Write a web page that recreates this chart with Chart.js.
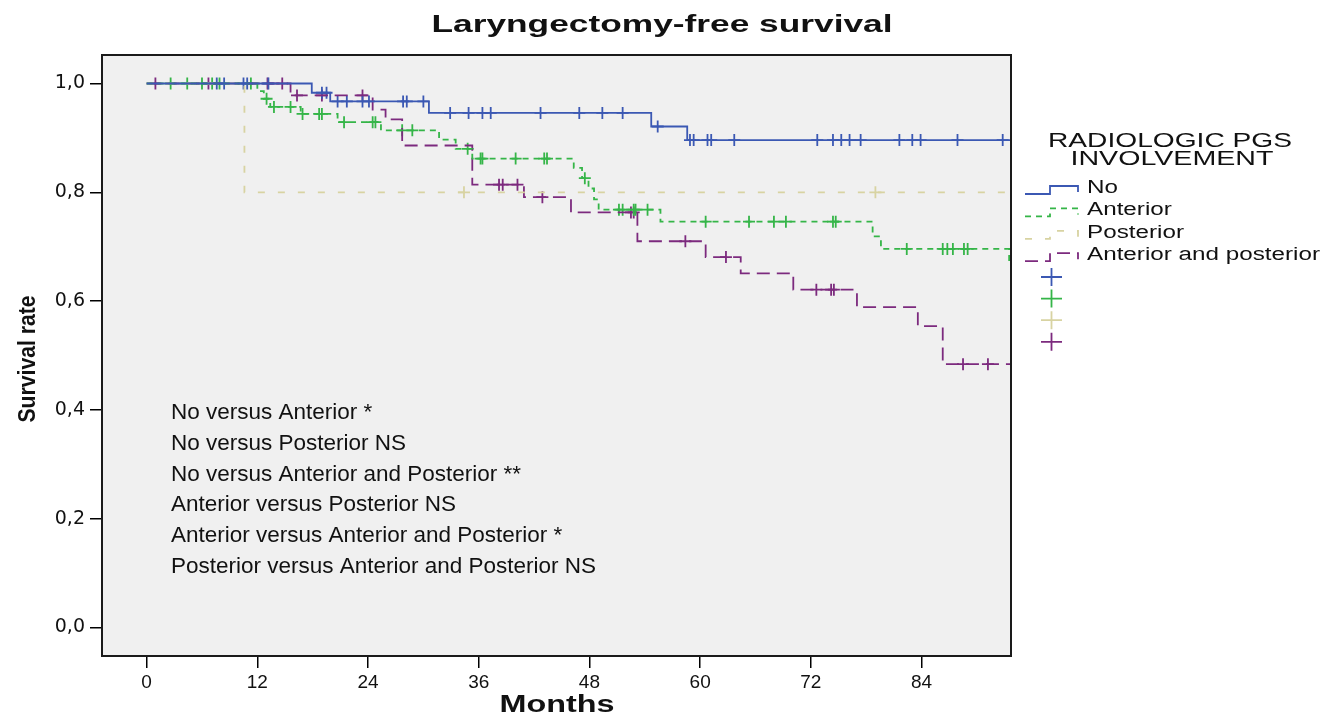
<!DOCTYPE html>
<html>
<head>
<meta charset="utf-8">
<title>Laryngectomy-free survival</title>
<script src="https://cdn.jsdelivr.net/npm/chart.js@4.4.0/dist/chart.umd.min.js"></script>
<style>
  html, body { margin: 0; padding: 0; background: #fff; }
  #wrap { width: 1323px; height: 716px; }
</style>
</head>
<body>
<div id="wrap"><canvas id="kmChart" width="1323" height="716"></canvas></div>
<script>
// Kaplan-Meier steps: time of each drop (months) and survival after it
const noTimes = [0, 17.9, 19.9, 30.6, 54.7, 58.6, 93.7];
const noSurv = [1, 0.983, 0.967, 0.946, 0.921, 0.896, 0.896];
const noCensored = [7.6, 8.4, 10.5, 10.9, 13.2, 19.0, 19.5, 20.7, 21.7, 23.4, 24.1, 27.8, 28.2, 30.0,
  32.9, 34.9, 36.4, 37.3, 42.7, 46.9, 49.4, 51.6, 55.4, 58.9, 59.3, 60.8, 61.2, 63.7, 72.7, 74.4,
  75.3, 76.2, 77.4, 81.6, 83.0, 83.9, 87.9, 92.8];

const antTimes = [0, 12.0, 12.7, 13.4, 16.7, 20.7, 25.4, 31.7, 33.5, 35.3, 46.3, 47.2, 47.9, 48.5,
  49.0, 55.7, 78.7, 79.6, 93.5, 93.7];
const antSurv = [1, 0.986, 0.972, 0.957, 0.944, 0.929, 0.914, 0.897, 0.880, 0.862, 0.845, 0.826,
  0.807, 0.787, 0.768, 0.746, 0.719, 0.696, 0.667, 0.667];
const antCensored = [2.6, 4.4, 6.0, 7.1, 7.9, 11.3, 13.0, 13.8, 15.6, 16.9, 18.7, 19.0, 21.4, 24.5,
  24.8, 27.7, 28.8, 34.8, 36.2, 36.4, 40.0, 43.1, 43.4, 47.5, 51.2, 51.6, 52.8, 53.0, 54.3, 60.6,
  65.3, 68.0, 69.3, 74.4, 74.7, 82.4, 86.3, 86.8, 87.4, 88.6, 89.0];

const postTimes = [0, 10.6, 93.7];
const postSurv = [1, 0.8, 0.8];
const postCensored = [34.4, 79.0];

const bothTimes = [0, 15.6, 24.5, 25.9, 27.7, 35.3, 40.9, 46.0, 53.2, 60.6, 64.4, 70.1, 77.0, 83.6,
  86.3, 93.7];
const bothSurv = [1, 0.978, 0.952, 0.934, 0.886, 0.814, 0.791, 0.763, 0.710, 0.681, 0.651, 0.621,
  0.589, 0.554, 0.484, 0.484];
const bothCensored = [0.95, 6.7, 13.1, 14.7, 16.3, 19.0, 23.4, 38.2, 38.6, 40.2, 42.9, 52.5, 52.8,
  58.4, 62.8, 72.6, 74.2, 74.5, 88.5, 91.2];

const groupLabels = ['No', 'Anterior', 'Posterior', 'Anterior and posterior'];
const groupColors = ['#3b58b3', '#35b548', '#d8d3a2', '#7c2a7e'];
const groupDashes = [[], [6, 5], [7, 13], [13, 7]];

const xTicks = [0, 12, 24, 36, 48, 60, 72, 84];
const yTicks = [0, 0.2, 0.4, 0.6, 0.8, 1.0];

const comparisons = [
  'No versus Anterior *',
  'No versus Posterior NS',
  'No versus Anterior and Posterior **',
  'Anterior versus Posterior NS',
  'Anterior versus Anterior and Posterior *',
  'Posterior versus Anterior and Posterior NS'
];

function survivalAt(times, surv, t) {
  let s = surv[0];
  for (let i = 0; i < times.length; i++) {
    if (times[i] <= t) s = surv[i];
  }
  return s;
}

function curve(times, surv) {
  return times.map((t, i) => ({x: t, y: surv[i]}));
}

function marks(times, surv, censored) {
  return censored.map(t => ({x: t, y: survivalAt(times, surv, t)}));
}

const series = [
  [noTimes, noSurv, noCensored],
  [antTimes, antSurv, antCensored],
  [postTimes, postSurv, postCensored],
  [bothTimes, bothSurv, bothCensored]
];

const datasets = [];
series.forEach(([times, surv, cens], i) => {
  datasets.push({
    label: groupLabels[i],
    data: curve(times, surv),
    borderColor: groupColors[i],
    borderWidth: 1.8,
    borderDash: groupDashes[i],
    stepped: true,
    pointRadius: 0,
    fill: false
  });
});
series.forEach(([times, surv, cens], i) => {
  datasets.push({
    label: groupLabels[i] + ' censored',
    data: marks(times, surv, cens),
    showLine: false,
    borderColor: groupColors[i],
    borderWidth: 1.8,
    pointStyle: 'cross',
    pointRadius: 6
  });
});

// draws text squeezed or stretched to a given width
function fitText(ctx, text, x, y, font, width, align, rot) {
  ctx.save();
  ctx.font = font;
  const w = ctx.measureText(text).width;
  ctx.translate(x, y);
  if (rot) ctx.rotate(rot);
  ctx.scale(width / w, 1);
  ctx.textAlign = align || 'center';
  ctx.textBaseline = 'middle';
  ctx.fillText(text, 0, 0);
  ctx.restore();
}

const kmDecor = {
  id: 'kmDecor',
  beforeDraw(chart) {
    const {ctx, chartArea: a} = chart;
    ctx.save();
    ctx.fillStyle = '#ffffff';
    ctx.fillRect(0, 0, chart.width, chart.height);
    ctx.fillStyle = '#f0f0f0';
    ctx.fillRect(a.left, a.top, a.right - a.left, a.bottom - a.top);
    ctx.restore();
  },
  afterDraw(chart) {
    const {ctx, chartArea: a} = chart;
    ctx.save();
    ctx.strokeStyle = '#1a1a1a';
    ctx.lineWidth = 2;
    ctx.strokeRect(a.left, a.top, a.right - a.left, a.bottom - a.top);

    ctx.fillStyle = '#111';
    fitText(ctx, 'Laryngectomy-free survival', 662, 25, 'bold 24px "Liberation Sans", Arial', 461);
    fitText(ctx, 'Months', 557, 706, 'bold 23px "Liberation Sans", Arial', 115);
    fitText(ctx, 'Survival rate', 28, 359, 'bold 24px "Liberation Sans", Arial', 127, 'center', -Math.PI / 2);

    // comparison notes
    ctx.font = '22px "Liberation Sans", Arial';
    const noteScale = 425 / ctx.measureText(comparisons[5]).width;
    comparisons.forEach((txt, i) => {
      ctx.font = '22px "Liberation Sans", Arial';
      const w = ctx.measureText(txt).width * noteScale;
      fitText(ctx, txt, 171, 413 + i * 30.8, '22px "Liberation Sans", Arial', w, 'left');
    });

    // legend
    fitText(ctx, 'RADIOLOGIC PGS', 1170, 141, '20px "Liberation Sans", Arial', 244);
    fitText(ctx, 'INVOLVEMENT', 1172, 159, '20px "Liberation Sans", Arial', 203);
    ctx.font = '18px "Liberation Sans", Arial';
    const legScale = 233 / ctx.measureText(groupLabels[3]).width;
    groupLabels.forEach((lbl, i) => {
      const y = 188 + i * 22.4;
      ctx.save();
      ctx.strokeStyle = groupColors[i];
      ctx.lineWidth = 1.8;
      ctx.setLineDash(groupDashes[i]);
      ctx.beginPath();
      ctx.moveTo(1025, y + 6);
      ctx.lineTo(1050, y + 6);
      ctx.lineTo(1050, y - 2);
      ctx.lineTo(1078, y - 2);
      ctx.lineTo(1078, y + 4);
      ctx.stroke();
      ctx.restore();
      ctx.font = '18px "Liberation Sans", Arial';
      const w = ctx.measureText(lbl).width * legScale;
      fitText(ctx, lbl, 1087, y, '18px "Liberation Sans", Arial', w, 'left');

      const py = 277 + i * 21.6;
      ctx.save();
      ctx.strokeStyle = groupColors[i];
      ctx.lineWidth = 1.8;
      ctx.beginPath();
      ctx.moveTo(1041, py);
      ctx.lineTo(1062, py);
      ctx.moveTo(1051.5, py - 9);
      ctx.lineTo(1051.5, py + 9);
      ctx.stroke();
      ctx.restore();
    });
    ctx.restore();
  }
};

new Chart(document.getElementById('kmChart'), {
  type: 'line',
  data: { datasets: datasets },
  plugins: [kmDecor],
  options: {
    responsive: false,
    animation: false,
    events: [],
    layout: { padding: { top: 55, right: 312, left: 0, bottom: 0 } },
    plugins: {
      legend: { display: false },
      title: { display: false },
      tooltip: { enabled: false }
    },
    scales: {
      x: {
        type: 'linear',
        min: -4.84,
        max: 93.7,
        afterBuildTicks: s => { s.ticks = xTicks.map(v => ({value: v})); },
        afterFit: s => { s.height = 60; },
        grid: { drawOnChartArea: false, drawTicks: true, tickLength: 12, color: '#000', lineWidth: 1.5 },
        border: { display: false },
        ticks: {
          padding: 3,
          color: '#111',
          font: { family: '"Liberation Sans Narrow", "Liberation Sans", Arial', size: 19 },
          callback: v => String(v)
        }
      },
      y: {
        type: 'linear',
        min: -0.0524,
        max: 1.0524,
        afterBuildTicks: s => { s.ticks = yTicks.map(v => ({value: v})); },
        afterFit: s => { s.width = 102; },
        grid: { drawOnChartArea: false, drawTicks: true, tickLength: 12, color: '#000', lineWidth: 1.5 },
        border: { display: false },
        ticks: {
          padding: 5,
          color: '#111',
          font: { family: '"DejaVu Sans"', size: 19 },
          callback: v => v.toFixed(1).replace('.', ',')
        }
      }
    }
  }
});
</script>
</body>
</html>
